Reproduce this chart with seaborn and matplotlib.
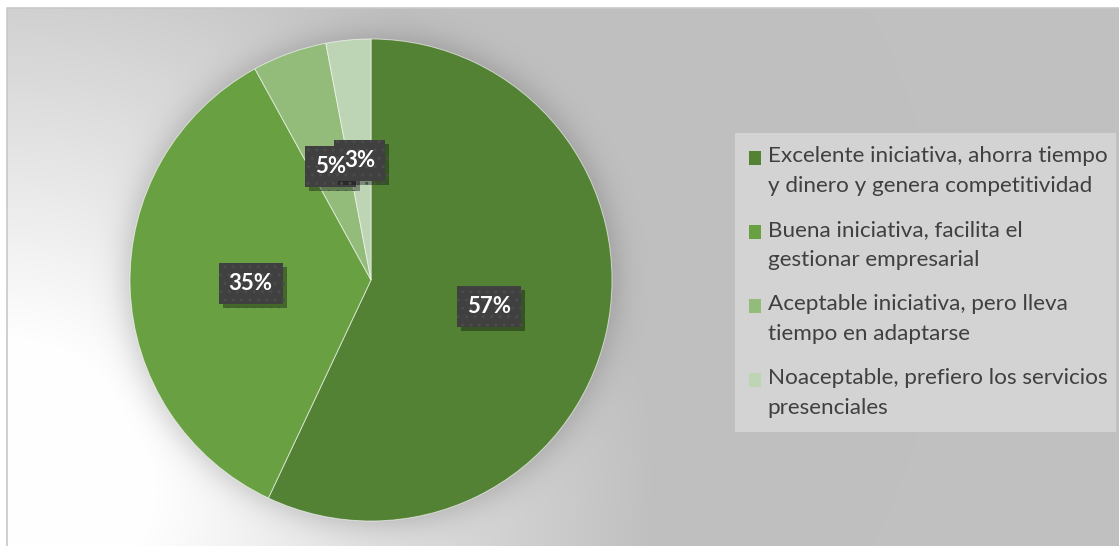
import numpy as np
import matplotlib
matplotlib.use("Agg")
import matplotlib.pyplot as plt
import matplotlib.patches as mpatches
import matplotlib.patheffects as pe
from matplotlib import font_manager as fm
from matplotlib.legend_handler import HandlerPatch
import seaborn as sns

# Survey answers and their shares (%)
categories = [
    "Excelente iniciativa, ahorra tiempo\ny dinero y genera competitividad",
    "Buena iniciativa, facilita el\ngestionar empresarial",
    "Aceptable iniciativa, pero lleva\ntiempo en adaptarse",
    "Noaceptable, prefiero los servicios\npresenciales",
]
shares = [57, 35, 5, 3]
slice_colors = ["#548235", "#69A042", "#93BB7A", "#BDD5B4"]

sns.set_theme(style="white")
plt.rcParams["font.family"] = ["Lato", "DejaVu Sans"]

# Bold face for the percentage labels (thickened with a stroke if no bold file exists)
bold_files = [f for f in fm.fontManager.ttflist
              if f.name == "Lato" and f.weight == 700 and f.style == "normal"]
if bold_files:
    label_font = fm.FontProperties(fname=bold_files[0].fname, size=16)
    label_effects = []
else:
    label_font = fm.FontProperties(family="Lato", weight="bold", size=16)
    label_effects = [pe.withStroke(linewidth=0.8, foreground="white")]

W, H, DPI = 1119, 546, 100
fig = plt.figure(figsize=(W / DPI, H / DPI), dpi=DPI, facecolor="white")

# Pie placement in pixels
cx, cy, R = 371, 280, 241

# Chart-area fill: radial light gradient plus a soft glow around the pie
yy, xx = np.mgrid[0:H, 0:W] + 0.5
d = np.hypot(xx - 0, (yy - 480) * 1.1)
light = np.clip((650 - d) / 500, 0, 1)
base = 192 + (255 - 192) * light
dp = np.hypot(xx - cx, yy - cy)
glow = 0.20 / (1 + np.exp((dp - R - 4) / 9))
val = base * (1 - glow)
val[:, :7] = 255
val[:8, :] = 255
img = np.repeat(val[..., None], 3, axis=2) / 255

bg = fig.add_axes([0, 0, 1, 1])
bg.imshow(img, extent=(0, W, H, 0), interpolation="bilinear", aspect="auto")
bg.plot([6.5, 6.5, W], [H, 7.5, 7.5], color="#c8c8c8", lw=1.2)
bg.set_xlim(0, W)
bg.set_ylim(H, 0)
bg.axis("off")

ax = fig.add_axes([(cx - R) / W, (H - cy - R) / H, 2 * R / W, 2 * R / H])
wedges, _, autotexts = ax.pie(
    shares,
    colors=slice_colors,
    startangle=90,
    counterclock=False,
    autopct="%1.0f%%",
    pctdistance=0.5,
    wedgeprops=dict(edgecolor=(1, 1, 1, 0.6), linewidth=0.7),
    textprops=dict(color="white"),
)
ax.set_xlim(-1, 1)
ax.set_ylim(-1, 1)

# Dark label boxes go underneath every percentage text
for t in autotexts:
    t.set_fontproperties(label_font)
    t.set_path_effects(label_effects)
    t.set_zorder(6)
    x, y = t.get_position()
    box = ax.text(x, y, t.get_text(), ha="center", va="center",
                  fontproperties=label_font, color="none", zorder=5,
                  bbox=dict(boxstyle="square,pad=0.45", facecolor="#404040",
                            edgecolor="#4b4b4b", linewidth=0, hatch=".."))
    box.get_bbox_patch().set_path_effects([
        pe.withSimplePatchShadow(offset=(3, -3), shadow_rgbFace="black", alpha=0.35),
        pe.Normal(),
    ])

shift_pt = 10


def top_square(legend, orig_handle, xdescent, ydescent, width, height, fontsize):
    return mpatches.Rectangle((-xdescent, -ydescent + shift_pt), width, height)


leg = fig.legend(
    wedges, categories,
    loc="upper left",
    bbox_to_anchor=(735 / W, 1 - 428 / H, 381 / W, 295 / H),
    bbox_transform=fig.transFigure,
    mode="expand",
    frameon=True, fancybox=False, facecolor="#d3d3d3", edgecolor="none", framealpha=1,
    fontsize=16.2, handlelength=0.57, handleheight=0.57, handletextpad=0.28,
    borderpad=0.6, labelspacing=1.07, borderaxespad=0,
    handler_map={mpatches.Wedge: HandlerPatch(patch_func=top_square)},
)
for t in leg.get_texts():
    t.set_color("#404040")
    t.set_linespacing(1.62)
for h in leg.legend_handles:
    h.set_edgecolor("none")

fig.savefig("out.png", dpi=DPI, facecolor="white")
